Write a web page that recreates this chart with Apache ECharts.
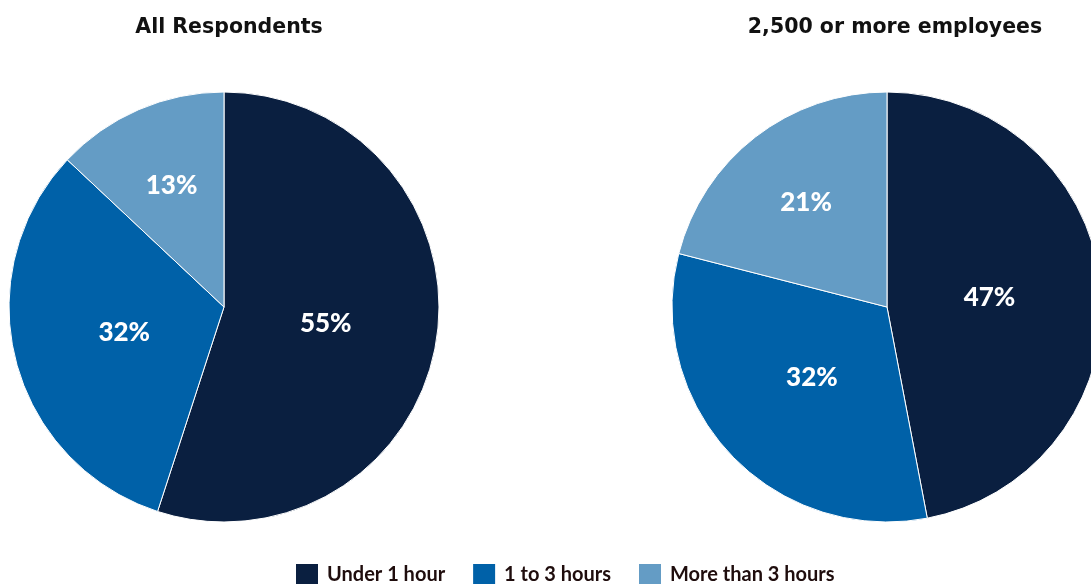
<!DOCTYPE html>
<html>
<head>
<meta charset="utf-8">
<script src="https://cdn.jsdelivr.net/npm/echarts@6/dist/echarts.min.js"></script>
<style>
  html, body { margin: 0; padding: 0; background: #ffffff; }
  #chart { width: 1091px; height: 584px; }
</style>
</head>
<body>
<div id="chart"></div>
<script>
// Time spent — share of respondents
const categories = ['Under 1 hour', '1 to 3 hours', 'More than 3 hours'];
const allRespondents = [55, 32, 13];
const largeEmployers = [47, 32, 21];
const groupTitles = ['All Respondents', '2,500 or more employees'];
const colors = ['#0a1f40', '#0061a8', '#649cc5'];

const PIE_R = 215;
const centers = [[224, 307], [887, 307]];

const toData = (vals) => vals.map((v, i) => ({ name: categories[i], value: v }));

// Push labels of narrow slices further out toward the rim
function labelLayoutFor(seriesIdx, values) {
  return function (params) {
    const c = centers[seriesIdx];
    const r = params.labelRect;
    const lx = r.x + r.width / 2;
    const ly = r.y + r.height / 2;
    const dx = lx - c[0], dy = ly - c[1];
    const d = Math.sqrt(dx * dx + dy * dy) || 1;
    const target = values[params.dataIndex] < 25 ? 132 : 103;
    return { x: c[0] + dx / d * target, y: c[1] + dy / d * target };
  };
}

const pieBase = {
  type: 'pie',
  radius: PIE_R,
  startAngle: 90,
  clockwise: true,
  avoidLabelOverlap: false,
  itemStyle: { borderColor: '#ffffff', borderWidth: 1 },
  label: {
    show: true,
    position: 'inside',
    formatter: '{c}%',
    color: '#ffffff',
    fontFamily: 'Lato',
    fontWeight: 900,
    fontSize: 26,
    align: 'center',
    verticalAlign: 'middle'
  },
  labelLine: { show: false },
  emphasis: { disabled: true },
  animation: false
};

const chart = echarts.init(document.getElementById('chart'), null, { renderer: 'canvas' });
chart.setOption({
  color: colors,
  title: [
    { text: groupTitles[0], left: 224, top: 12, textAlign: 'center',
      textStyle: { fontFamily: 'DejaVu Sans', fontWeight: 'bold', fontSize: 20.5, color: '#111111' } },
    { text: groupTitles[1], left: 890, top: 12, textAlign: 'center',
      textStyle: { fontFamily: 'DejaVu Sans', fontWeight: 'bold', fontSize: 20.5, color: '#111111' } }
  ],
  legend: {
    data: categories,
    left: 296,
    top: 564,
    padding: 0,
    itemWidth: 22,
    itemHeight: 22,
    itemGap: 28,
    icon: 'rect',
    itemStyle: { borderWidth: 0 },
    textStyle: { fontFamily: 'Lato', fontWeight: 'bold', fontSize: 20, color: '#1f0d0d', padding: [0, 0, 0, 4] }
  },
  series: [
    Object.assign({}, pieBase, { name: groupTitles[0], center: centers[0], data: toData(allRespondents),
      labelLayout: labelLayoutFor(0, allRespondents) }),
    Object.assign({}, pieBase, { name: groupTitles[1], center: centers[1], data: toData(largeEmployers),
      labelLayout: labelLayoutFor(1, largeEmployers) })
  ]
});
</script>
</body>
</html>
